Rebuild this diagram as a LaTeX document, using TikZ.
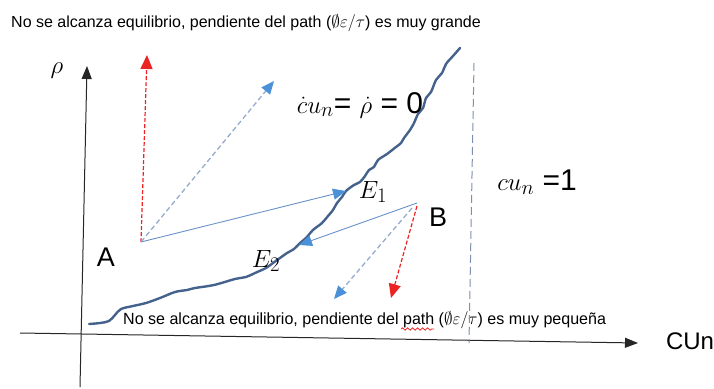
\documentclass[tikz,border=0pt]{standalone}
\usepackage{fontspec}
\setmainfont{Liberation Sans}
\usetikzlibrary{arrows.meta}
\usetikzlibrary{decorations.pathmorphing}

\definecolor{pathblue}{RGB}{68,98,140}
\definecolor{lineblue}{RGB}{105,145,200}
\definecolor{tipblue}{RGB}{75,145,215}
\definecolor{dashblue}{RGB}{150,172,205}
\definecolor{dashred}{RGB}{235,35,35}
\definecolor{guidegray}{RGB}{125,145,175}

\begin{document}
\begin{tikzpicture}[x=1pt,y=-1pt,
  axis/.style={black!85,line width=1pt,-{Triangle[length=13pt,width=10pt]}},
  solidarr/.style={lineblue,line width=0.9pt,-{Triangle[length=13pt,width=11pt,color=tipblue]}},
  bluedash/.style={dashblue,line width=1.3pt,dash pattern=on 5pt off 3pt,-{Triangle[length=13pt,width=11pt,color=tipblue]}},
  reddash/.style={dashred,line width=1.2pt,dash pattern=on 4pt off 2pt,-{Triangle[length=14pt,width=12pt]}},
  lbl/.style={font=\fontsize{27}{29}\selectfont,inner sep=0pt},
  mlbl/.style={font=\fontsize{28}{30}\selectfont,inner sep=0pt},
  note/.style={font=\fontsize{16}{17}\selectfont,inner sep=0pt,anchor=west}]
\useasboundingbox (0,0) rectangle (714,388);

% titles
\node[note] (top) at (11,23) {No se alcanza equilibrio, pendiente del path ($\emptyset\varepsilon/\tau$) es muy grande};
\node[note,font=\fontsize{16.2}{17}\selectfont,xscale=0.99] (low) at (123,320) {No se alcanza equilibrio, pendiente del path ($\emptyset\varepsilon/\tau$) es muy pequeña};
\draw[dashred,line width=0.8pt,decorate,decoration={snake,amplitude=1.2pt,segment length=5pt}] (401,329) -- (434,329);

% axes
\coordinate (xs) at (20,333);
\coordinate (xe) at (638,343);
\coordinate (ys) at (80,387);
\coordinate (ye) at (87,66);
\draw[axis] (xs) -- (xe);
\draw[axis] (ys) -- (ye);
\node[font=\fontsize{24}{26}\selectfont,inner sep=0pt] (cun) at (690,341) {CUn};
\node[mlbl,font=\fontsize{26}{28}\selectfont] (rho) at (57,71) {$\rho$};

% cu_n = 1 line
\coordinate (vt) at (474,63);
\coordinate (vb) at (469,343);
\draw[guidegray,line width=1pt,dash pattern=on 8pt off 4pt] (vt) -- (vb);

% equilibrium path
\draw[pathblue,line width=2.4pt,line cap=round] plot[smooth,tension=0.55] coordinates {
 (89,324) (100,323) (109,321) (115,315) (121,309) (133,306) (146,303) (160,298)
 (175,292) (187,290) (195,288) (214,285) (235,279) (246,277) (255,273) (266,268)
 (273,263) (280,258) (287,253) (294,249) (300,243) (306,238) (313,230) (322,223)
 (328,216) (333,210) (337,203) (342,197) (346,191) (354,185) (360,182) (365,176)
 (369,170) (374,167) (378,160) (387,154) (396,147) (401,143) (404,138) (410,130)
 (414,123) (418,114) (423,108) (426,98) (431,92) (436,80) (442,73) (446,64)
 (453,56) (460,48)};

% points
\coordinate (pA) at (141,242);
\coordinate (pB) at (417,203);
\node[lbl] (A) at (106,257) {A};
\node[lbl] (B) at (438,217) {B};
\node[mlbl] (E1) at (373,192) {$E_1$};
\node[mlbl] (E2) at (266,261) {$E_2$};

% arrows
\coordinate (toE1) at (346,191);
\coordinate (toE2) at (299,245);
\coordinate (upA) at (147,55);
\coordinate (diagA) at (274,81);
\coordinate (downB) at (391,298);
\coordinate (diagB) at (334,299);
\draw[solidarr] (pA) -- (toE1);
\draw[solidarr] (pB) -- (toE2);
\draw[reddash] (pA) -- (upA);
\draw[bluedash] (pA) -- (diagA);
\draw[reddash] ([shift={(0,3)}]pB) -- (downB);
\draw[bluedash] ([shift={(-5,5)}]pB) -- (diagB);

% conditions
\node[font=\fontsize{30}{32}\selectfont,inner sep=0pt] (eq) at (360,105) {$\dot{c}u_n$= $\dot{\rho}$ = 0};
\node[font=\fontsize{30}{32}\selectfont,inner sep=0pt] (one) at (537,182) {$cu_n$ =1};
\end{tikzpicture}
\end{document}
